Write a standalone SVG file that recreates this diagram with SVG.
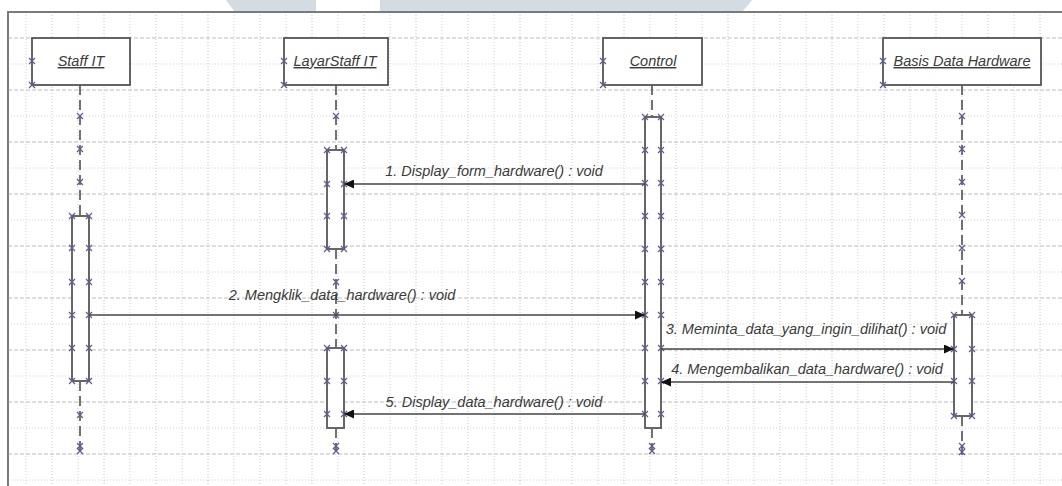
<svg xmlns="http://www.w3.org/2000/svg" width="1062" height="486" viewBox="0 0 1062 486">
<defs>
<style>
.gmaj{fill:none;stroke:#bcbcbc;stroke-width:1;stroke-dasharray:4,2}
.gmin{fill:none;stroke:#d2d2d2;stroke-width:1;stroke-dasharray:1,2}
.hdr{fill:#fff;stroke:#555;stroke-width:1.8}
.hdrt{font-family:"Liberation Sans",Arial,sans-serif;font-style:italic;font-size:14.5px;fill:#3a3a3a;text-decoration:underline;text-anchor:middle}
.life{fill:none;stroke:#444;stroke-width:1.5;stroke-dasharray:10,5}
.act{fill:#fff;stroke:#666;stroke-width:2}
.msg{fill:none;stroke:#444;stroke-width:1.5}
.lbl{font-family:"Liberation Sans",Arial,sans-serif;font-style:italic;font-size:14.5px;fill:#3a3a3a;text-anchor:middle}
.xm{fill:none;stroke:#5c5c94;stroke-width:1.2}
</style>
<symbol id="x" overflow="visible"><path class="xm" d="M-3,-3L3,3M-3,3L3,-3"/></symbol>
<marker id="ah" markerUnits="userSpaceOnUse" markerWidth="11" markerHeight="9" refX="10" refY="4.5" orient="auto"><path d="M0,0L10,4.5L0,9z" fill="#111"/></marker>
</defs>
<rect width="1062" height="486" fill="#fff"/>
<!-- watermark band -->
<polygon points="226,0 316,0 316,11 234,11" fill="#d3dbe3"/>
<polygon points="380,0 752,0 743,11 380,11" fill="#d3dbe3"/>
<!-- grid -->
<path class="gmin" d="M26,12V486M78,12V486M130,12V486M182,12V486M234,12V486M286,12V486M338,12V486M390,12V486M442,12V486M494,12V486M546,12V486M598,12V486M650,12V486M702,12V486M754,12V486M806,12V486M858,12V486M910,12V486M962,12V486M1014,12V486"/>
<path class="gmin" style="stroke:#c4c4c4" d="M52,12V486M104,12V486M156,12V486M208,12V486M260,12V486M312,12V486M364,12V486M416,12V486M468,12V486M520,12V486M572,12V486M624,12V486M676,12V486M728,12V486M780,12V486M832,12V486M884,12V486M936,12V486M988,12V486M1040,12V486"/>
<path class="gmaj" d="M8,38H1062M8,90H1062M8,142H1062M8,194H1062M8,246H1062M8,298H1062M8,350H1062M8,402H1062M8,454H1062"/>
<path class="gmin" d="M8,64H1062M8,116H1062M8,168H1062M8,220H1062M8,272H1062M8,324H1062M8,376H1062M8,428H1062M8,480H1062"/>
<!-- frame -->
<path d="M8,486V12H1062" fill="none" stroke="#7a7a7a" stroke-width="2"/>

<g id="staff-it">
<path class="life" d="M80,85V216M80,381V452"/>
<rect class="hdr" x="32" y="38" width="98" height="47"/>
<text class="hdrt" x="81" y="66">Staff IT</text>
<rect class="act" x="72" y="216" width="17" height="165"/>
<use href="#x" x="32" y="61"/><use href="#x" x="32" y="85"/>
<use href="#x" x="80" y="116"/><use href="#x" x="80" y="149"/><use href="#x" x="80" y="182"/>
<use href="#x" x="72" y="216"/><use href="#x" x="89" y="216"/>
<use href="#x" x="72" y="248"/><use href="#x" x="89" y="248"/>
<use href="#x" x="72" y="282"/><use href="#x" x="89" y="282"/>
<use href="#x" x="72" y="315"/><use href="#x" x="89" y="315"/>
<use href="#x" x="72" y="348"/><use href="#x" x="89" y="348"/>
<use href="#x" x="72" y="381"/><use href="#x" x="89" y="381"/>
<use href="#x" x="80" y="415"/><use href="#x" x="80" y="446"/><use href="#x" x="80" y="451"/>
</g>

<g id="layar-staff-it">
<path class="life" d="M336,85V150M336,249V348M336,428V452"/>
<rect class="hdr" x="284" y="38" width="104" height="47"/>
<text class="hdrt" x="335" y="66">LayarStaff IT</text>
<rect class="act" x="327" y="150" width="17" height="99"/>
<rect class="act" x="327" y="348" width="17" height="80"/>
<use href="#x" x="284" y="61"/><use href="#x" x="284" y="85"/>
<use href="#x" x="336" y="116"/>
<use href="#x" x="327" y="150"/><use href="#x" x="344" y="150"/>
<use href="#x" x="327" y="184"/><use href="#x" x="344" y="184"/>
<use href="#x" x="327" y="216"/><use href="#x" x="344" y="216"/>
<use href="#x" x="327" y="249"/><use href="#x" x="344" y="249"/>
<use href="#x" x="336" y="282"/><use href="#x" x="336" y="315"/>
<use href="#x" x="327" y="348"/><use href="#x" x="344" y="348"/>
<use href="#x" x="327" y="381"/><use href="#x" x="344" y="381"/>
<use href="#x" x="327" y="414"/><use href="#x" x="344" y="414"/>
<use href="#x" x="336" y="446"/><use href="#x" x="336" y="451"/>
</g>

<g id="control">
<path class="life" d="M652,85V117M652,428V452"/>
<rect class="hdr" x="603" y="38" width="99" height="47"/>
<text class="hdrt" x="653" y="66">Control</text>
<rect class="act" x="645" y="117" width="16" height="311"/>
<use href="#x" x="603" y="61"/><use href="#x" x="603" y="85"/>
<use href="#x" x="645" y="117"/><use href="#x" x="661" y="117"/>
<use href="#x" x="645" y="150"/><use href="#x" x="661" y="150"/>
<use href="#x" x="645" y="183"/><use href="#x" x="661" y="183"/>
<use href="#x" x="645" y="216"/><use href="#x" x="661" y="216"/>
<use href="#x" x="645" y="249"/><use href="#x" x="661" y="249"/>
<use href="#x" x="645" y="282"/><use href="#x" x="661" y="282"/>
<use href="#x" x="645" y="315"/><use href="#x" x="661" y="315"/>
<use href="#x" x="645" y="348"/><use href="#x" x="661" y="348"/>
<use href="#x" x="645" y="381"/><use href="#x" x="661" y="381"/>
<use href="#x" x="645" y="414"/><use href="#x" x="661" y="414"/>
<use href="#x" x="652" y="446"/><use href="#x" x="652" y="451"/>
</g>

<g id="basis-data-hardware">
<path class="life" d="M962,85V315M962,416V455"/>
<rect class="hdr" x="883" y="38" width="158" height="47"/>
<text class="hdrt" x="962" y="66">Basis Data Hardware</text>
<rect class="act" x="954" y="315" width="18" height="101"/>
<use href="#x" x="883" y="61"/><use href="#x" x="883" y="85"/>
<use href="#x" x="962" y="116"/><use href="#x" x="962" y="149"/><use href="#x" x="962" y="182"/>
<use href="#x" x="962" y="215"/><use href="#x" x="962" y="248"/><use href="#x" x="962" y="281"/>
<use href="#x" x="954" y="315"/><use href="#x" x="972" y="315"/>
<use href="#x" x="954" y="349"/><use href="#x" x="972" y="349"/>
<use href="#x" x="954" y="381"/><use href="#x" x="972" y="381"/>
<use href="#x" x="954" y="416"/><use href="#x" x="972" y="416"/>
<use href="#x" x="962" y="446"/><use href="#x" x="962" y="452"/>
</g>

<g id="connectors">
<path class="msg" d="M645,184H344" marker-end="url(#ah)"/>
<text class="lbl" x="494" y="175.5">1. Display_form_hardware() : void</text>
<path class="msg" d="M89,315H645" marker-end="url(#ah)"/>
<text class="lbl" x="342" y="300">2. Mengklik_data_hardware() : void</text>
<path class="msg" d="M661,349H954" marker-end="url(#ah)"/>
<text class="lbl" x="806" y="334">3. Meminta_data_yang_ingin_dilihat() : void</text>
<path class="msg" d="M954,382H661" marker-end="url(#ah)"/>
<text class="lbl" x="807" y="374">4. Mengembalikan_data_hardware() : void</text>
<path class="msg" d="M645,414H344" marker-end="url(#ah)"/>
<text class="lbl" x="494" y="406.5">5. Display_data_hardware() : void</text>
</g>
</svg>
